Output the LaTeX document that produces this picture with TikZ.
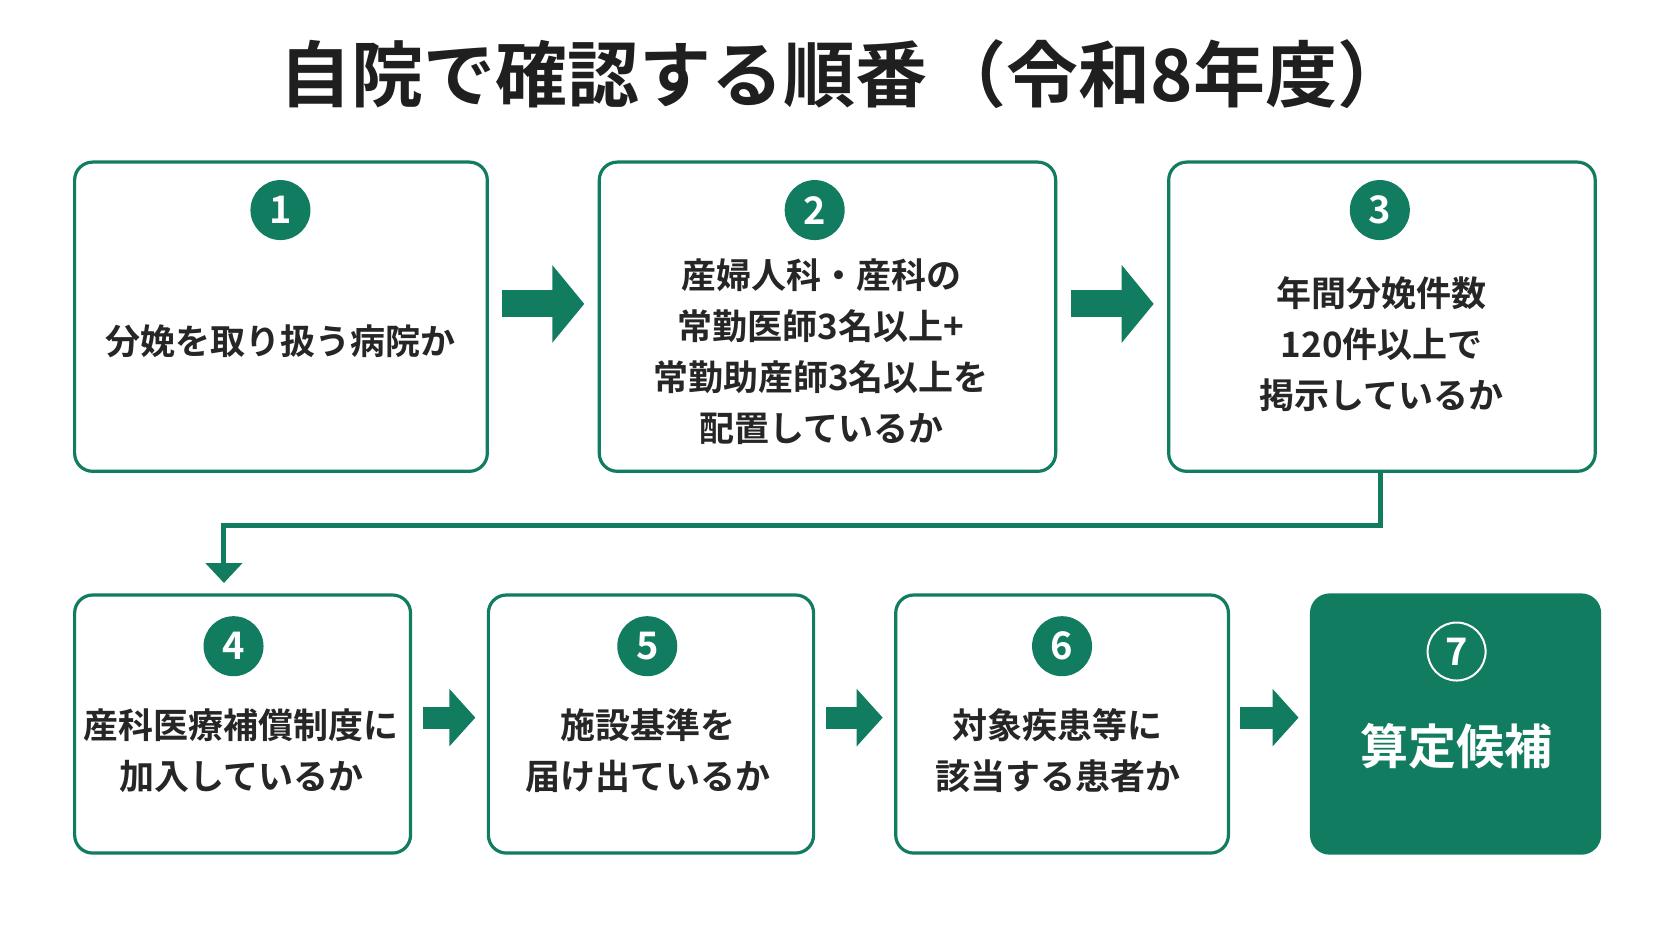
\documentclass[tikz,border=0pt]{standalone}
\usepackage{fontspec}
\setmainfont{Noto Sans CJK JP}[BoldFont={* Bold}]
\usetikzlibrary{arrows.meta}
\definecolor{g}{HTML}{127C60}
\begin{document}
\begin{tikzpicture}[x=1.0663pt,y=-1.0663pt,
 box/.style={draw=g,line width=3.2pt,rounded corners=18pt,fill=white},
 num/.style={circle,fill=g,text=white,inner sep=0pt,minimum size=60pt,font=\bfseries\fontsize{38}{38}\selectfont},
 txt/.style={align=center,font=\bfseries\fontsize{35}{51}\selectfont,text=black!85},
 big/.style={g,line width=27pt,-{Triangle[length=32pt,width=76pt]},shorten <=15pt,shorten >=15pt},
 small/.style={g,line width=22pt,-{Triangle[length=26pt,width=56pt]},shorten <=12pt,shorten >=13pt}]
\useasboundingbox (0,0) rectangle (1568,883);
\node[font=\bfseries\fontsize{72}{72}\selectfont,text=black!88] (title) at (792,70) {自院で確認する順番\hspace{0.1em}（令和8年度）};
% boxes
\draw[box] (70,152) rectangle (457,442); \coordinate (b1e) at (457,285);
\draw[box] (562,152) rectangle (990,442); \coordinate (b2w) at (562,285); \coordinate (b2e) at (990,285);
\draw[box] (1096,152) rectangle (1496,442); \coordinate (b3w) at (1096,285); \coordinate (b3s) at (1295,442);
\draw[box] (70,558) rectangle (385,800); \coordinate (b4e) at (385,673); \coordinate (b4n) at (210,558);
\draw[box] (458,558) rectangle (763,800); \coordinate (b5w) at (458,673); \coordinate (b5e) at (763,673);
\draw[box] (840,558) rectangle (1152,800); \coordinate (b6w) at (840,673); \coordinate (b6e) at (1152,673);
\draw[box,fill=g] (1230,558) rectangle (1500,800); \coordinate (b7w) at (1230,673);
% numbers
\node[num] (n1) at (263,197) {1};
\node[num] (n2) at (764,197) {2};
\node[num] (n3) at (1294,197) {3};
\node[num] (n4) at (219,606) {4};
\node[num] (n5) at (607,606) {5};
\node[num] (n6) at (996,606) {6};
\node[num,draw=white,line width=2pt,minimum size=58pt] (n7) at (1366,611) {7};
% texts
\node[txt] (t1) at (263,320) {分娩を取り扱う病院か};
\node[txt] (t2) at (770,330) {産婦人科・産科の\\常勤医師3名以上+\\常勤助産師3名以上を\\配置しているか};
\node[txt] (t3) at (1296,323) {年間分娩件数\\120件以上で\\掲示しているか};
\node[txt] (t4) at (226,704) {産科医療補償制度に\\加入しているか};
\node[txt] (t5) at (608,704) {施設基準を\\届け出ているか};
\node[txt] (t6) at (992,704) {対象疾患等に\\該当する患者か};
\node[txt,text=white,font=\bfseries\fontsize{48}{48}\selectfont] (t7) at (1366,700) {算定候補};
% arrows
\draw[big] (b1e) -- (b2w);
\draw[big] (b2e) -- (b3w);
\draw[small] (b4e) -- (b5w);
\draw[small] (b5e) -- (b6w);
\draw[small] (b6e) -- (b7w);
\draw[g,line width=5pt,-{Triangle[length=20pt,width=36pt]},shorten >=12pt] (b3s) -- (1295,493) -- (210,493) -- (b4n);
\end{tikzpicture}
\end{document}
